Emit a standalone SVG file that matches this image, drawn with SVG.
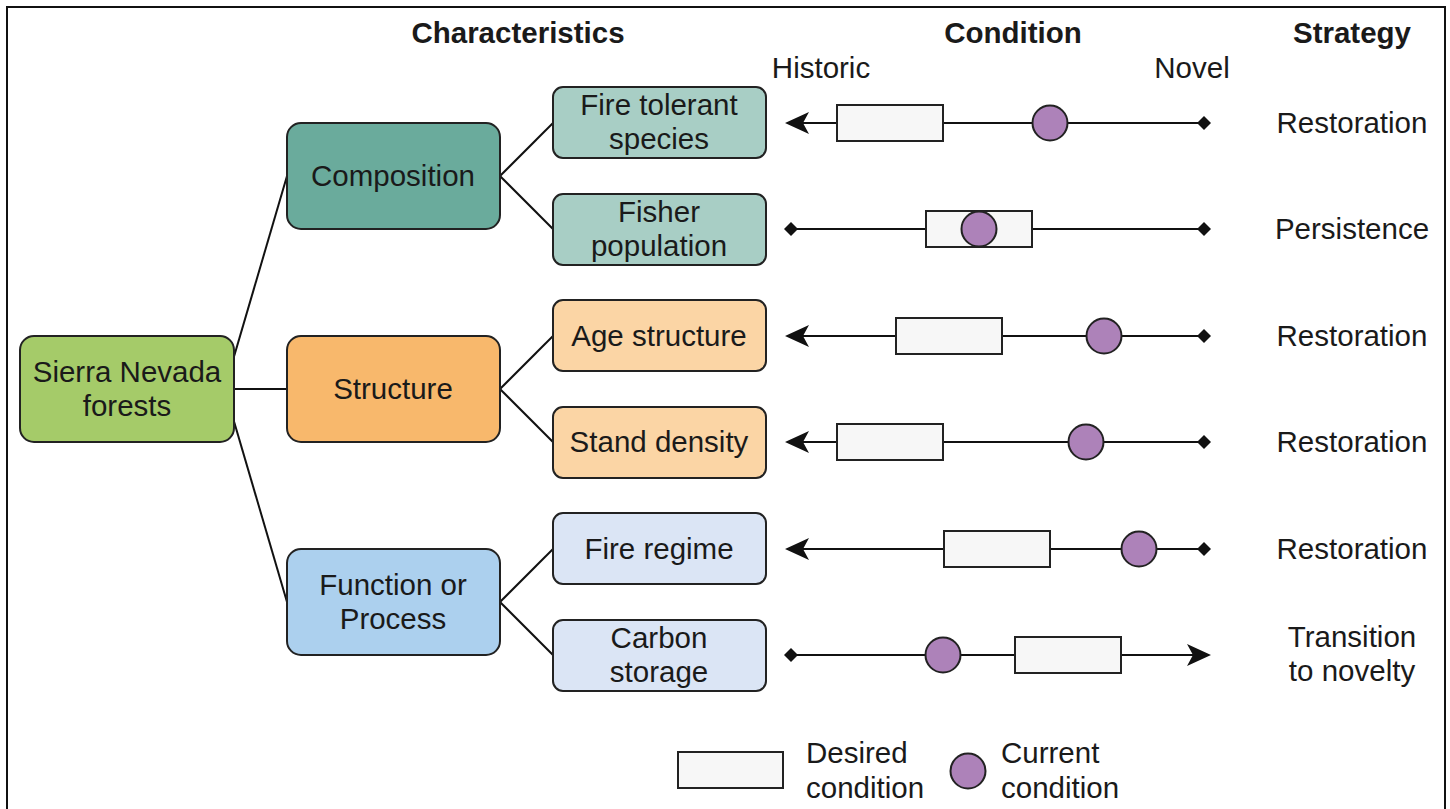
<svg xmlns="http://www.w3.org/2000/svg" width="1450" height="809" viewBox="0 0 1450 809">
<defs>
<style>
text{font-family:"Liberation Sans",Arial,Helvetica,sans-serif;font-size:29.5px;fill:#1a1a1a;text-anchor:middle}
.h{font-weight:bold}
.box{stroke:#222;stroke-width:2}
.ln{stroke:#111;stroke-width:2;fill:none}
.des{fill:#f7f7f7;stroke:#222;stroke-width:2}
.cur{fill:#ad82b9;stroke:#222;stroke-width:2}
.tip{fill:#111}
</style>
</defs>
<rect x="0" y="0" width="1450" height="809" fill="#fff"/>
<path d="M7,812 V7 H1445 V812" fill="none" stroke="#111" stroke-width="2"/>

<g id="headers">
<text class="h" x="518" y="43">Characteristics</text>
<text class="h" x="1013" y="43">Condition</text>
<text class="h" x="1352" y="43">Strategy</text>
<text x="821" y="78">Historic</text>
<text x="1192" y="78">Novel</text>
</g>

<g id="connectors">
<line class="ln" x1="233" y1="360" x2="287" y2="176"/>
<line class="ln" x1="234" y1="389" x2="287" y2="389"/>
<line class="ln" x1="233" y1="418" x2="287" y2="602"/>
<line class="ln" x1="500" y1="176" x2="553" y2="123"/>
<line class="ln" x1="500" y1="176" x2="553" y2="229"/>
<line class="ln" x1="500" y1="389" x2="553" y2="336"/>
<line class="ln" x1="500" y1="389" x2="553" y2="442"/>
<line class="ln" x1="500" y1="602" x2="553" y2="549"/>
<line class="ln" x1="500" y1="602" x2="553" y2="655"/>
</g>

<g id="root">
<rect class="box" x="20" y="336" width="214" height="106" rx="14" fill="#a5cb69"/>
<text x="127" y="382">Sierra Nevada</text>
<text x="127" y="416">forests</text>
</g>
<g id="composition">
<rect class="box" x="287" y="123" width="213" height="106" rx="14" fill="#6aab9c"/>
<text x="393" y="186">Composition</text>
</g>
<g id="structure">
<rect class="box" x="287" y="336" width="213" height="106" rx="14" fill="#f8b86c"/>
<text x="393" y="399">Structure</text>
</g>
<g id="function">
<rect class="box" x="287" y="549" width="213" height="106" rx="14" fill="#acd0ee"/>
<text x="393" y="595">Function or</text>
<text x="393" y="629">Process</text>
</g>

<g id="fire-tolerant">
<rect class="box" x="553" y="87" width="213" height="71" rx="10" fill="#a8cec5"/>
<text x="659" y="115">Fire tolerant</text>
<text x="659" y="149">species</text>
</g>
<g id="fisher">
<rect class="box" x="553" y="194" width="213" height="71" rx="10" fill="#a8cec5"/>
<text x="659" y="222">Fisher</text>
<text x="659" y="256">population</text>
</g>
<g id="age">
<rect class="box" x="553" y="300" width="213" height="71" rx="10" fill="#fbd5a5"/>
<text x="659" y="346">Age structure</text>
</g>
<g id="density">
<rect class="box" x="553" y="407" width="213" height="71" rx="10" fill="#fbd5a5"/>
<text x="659" y="452">Stand density</text>
</g>
<g id="fire-regime">
<rect class="box" x="553" y="513" width="213" height="71" rx="10" fill="#dbe5f5"/>
<text x="659" y="559">Fire regime</text>
</g>
<g id="carbon">
<rect class="box" x="553" y="620" width="213" height="71" rx="10" fill="#dbe5f5"/>
<text x="659" y="648">Carbon</text>
<text x="659" y="682">storage</text>
</g>

<g id="condition-rows">
<!-- row 1 -->
<line class="ln" x1="800" y1="123" x2="1204" y2="123"/>
<path class="tip" d="M785,123 L809,112 L803,123 L809,134 Z"/>
<path class="tip" d="M1197,123 L1204,116 L1211,123 L1204,130 Z"/>
<rect class="des" x="837" y="105" width="106" height="36"/>
<circle class="cur" cx="1050" cy="123" r="17.5"/>
<!-- row 2 -->
<line class="ln" x1="791" y1="229" x2="1204" y2="229"/>
<path class="tip" d="M784,229 L791,222 L798,229 L791,236 Z"/>
<path class="tip" d="M1197,229 L1204,222 L1211,229 L1204,236 Z"/>
<rect class="des" x="926" y="211" width="106" height="36"/>
<circle class="cur" cx="979" cy="229" r="17.5"/>
<!-- row 3 -->
<line class="ln" x1="800" y1="336" x2="1204" y2="336"/>
<path class="tip" d="M785,336 L809,325 L803,336 L809,347 Z"/>
<path class="tip" d="M1197,336 L1204,329 L1211,336 L1204,343 Z"/>
<rect class="des" x="896" y="318" width="106" height="36"/>
<circle class="cur" cx="1104" cy="336" r="17.5"/>
<!-- row 4 -->
<line class="ln" x1="800" y1="442" x2="1204" y2="442"/>
<path class="tip" d="M785,442 L809,431 L803,442 L809,453 Z"/>
<path class="tip" d="M1197,442 L1204,435 L1211,442 L1204,449 Z"/>
<rect class="des" x="837" y="424" width="106" height="36"/>
<circle class="cur" cx="1086" cy="442" r="17.5"/>
<!-- row 5 -->
<line class="ln" x1="800" y1="549" x2="1204" y2="549"/>
<path class="tip" d="M785,549 L809,538 L803,549 L809,560 Z"/>
<path class="tip" d="M1197,549 L1204,542 L1211,549 L1204,556 Z"/>
<rect class="des" x="944" y="531" width="106" height="36"/>
<circle class="cur" cx="1139" cy="549" r="17.5"/>
<!-- row 6 -->
<line class="ln" x1="791" y1="655" x2="1196" y2="655"/>
<path class="tip" d="M784,655 L791,648 L798,655 L791,662 Z"/>
<path class="tip" d="M1211,655 L1187,644 L1193,655 L1187,666 Z"/>
<rect class="des" x="1015" y="637" width="106" height="36"/>
<circle class="cur" cx="943" cy="655" r="17.5"/>
</g>

<g id="strategy">
<text x="1352" y="133">Restoration</text>
<text x="1352" y="239">Persistence</text>
<text x="1352" y="346">Restoration</text>
<text x="1352" y="452">Restoration</text>
<text x="1352" y="559">Restoration</text>
<text x="1352" y="647">Transition</text>
<text x="1352" y="681">to novelty</text>
</g>

<g id="legend">
<rect class="des" x="678" y="752" width="105" height="36"/>
<text x="806" y="763" style="text-anchor:start">Desired</text>
<text x="806" y="798" style="text-anchor:start">condition</text>
<circle class="cur" cx="968" cy="771" r="17.5"/>
<text x="1001" y="763" style="text-anchor:start">Current</text>
<text x="1001" y="798" style="text-anchor:start">condition</text>
</g>
</svg>
